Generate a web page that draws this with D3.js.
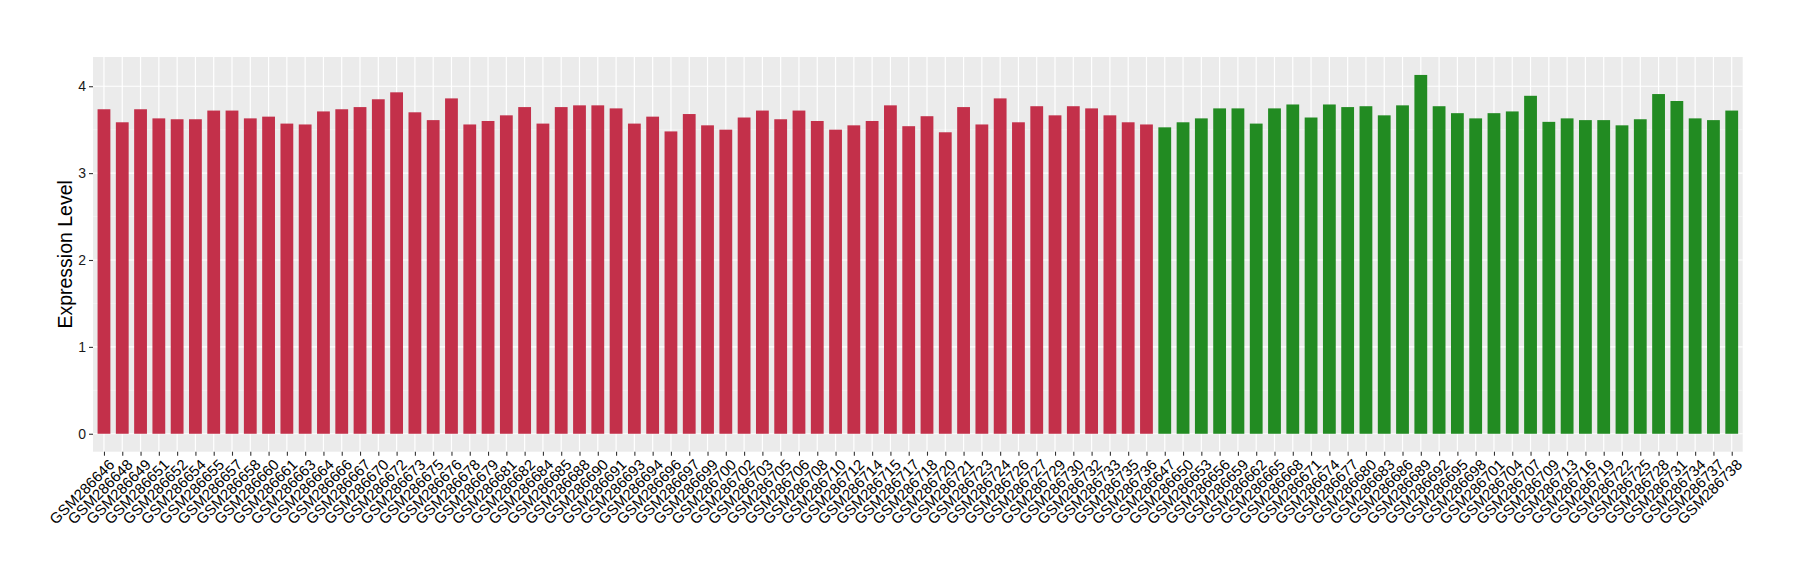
<!DOCTYPE html>
<html>
<head>
<meta charset="utf-8">
<script src="https://cdn.jsdelivr.net/npm/d3@7"></script>
<style>
  html, body { margin: 0; padding: 0; background: #fff; }
  svg { display: block; font-family: "Liberation Sans", Arial, Helvetica, sans-serif; }
</style>
</head>
<body>
<svg id="chart" width="1800" height="580"></svg>
<script>
const redSamples = ["GSM286646","GSM286648","GSM286649","GSM286651","GSM286652","GSM286654","GSM286655","GSM286657","GSM286658","GSM286660","GSM286661","GSM286663","GSM286664","GSM286666","GSM286667","GSM286670","GSM286672","GSM286673","GSM286675","GSM286676","GSM286678","GSM286679","GSM286681","GSM286682","GSM286684","GSM286685","GSM286688","GSM286690","GSM286691","GSM286693","GSM286694","GSM286696","GSM286697","GSM286699","GSM286700","GSM286702","GSM286703","GSM286705","GSM286706","GSM286708","GSM286710","GSM286712","GSM286714","GSM286715","GSM286717","GSM286718","GSM286720","GSM286721","GSM286723","GSM286724","GSM286726","GSM286727","GSM286729","GSM286730","GSM286732","GSM286733","GSM286735","GSM286736"];
const redValues = [3.735,3.585,3.735,3.63,3.62,3.62,3.72,3.72,3.63,3.65,3.57,3.56,3.71,3.735,3.76,3.85,3.93,3.70,3.61,3.86,3.56,3.60,3.665,3.76,3.57,3.76,3.78,3.78,3.745,3.57,3.65,3.48,3.68,3.55,3.50,3.64,3.72,3.62,3.72,3.60,3.50,3.55,3.60,3.78,3.54,3.655,3.47,3.76,3.56,3.86,3.585,3.77,3.665,3.77,3.745,3.665,3.585,3.56];
const greenSamples = ["GSM286647","GSM286650","GSM286653","GSM286656","GSM286659","GSM286662","GSM286665","GSM286668","GSM286671","GSM286674","GSM286677","GSM286680","GSM286683","GSM286686","GSM286689","GSM286692","GSM286695","GSM286698","GSM286701","GSM286704","GSM286707","GSM286709","GSM286713","GSM286716","GSM286719","GSM286722","GSM286725","GSM286728","GSM286731","GSM286734","GSM286737","GSM286738"];
const greenValues = [3.527,3.585,3.63,3.745,3.745,3.57,3.745,3.79,3.64,3.79,3.76,3.77,3.665,3.78,4.13,3.77,3.69,3.63,3.69,3.71,3.89,3.59,3.63,3.61,3.61,3.55,3.62,3.91,3.83,3.63,3.61,3.72];
const yTicks = [0, 1, 2, 3, 4];
const yMinor = [0.5, 1.5, 2.5, 3.5];
const yLabel = "Expression Level";
const colors = { red: "#C3304A", green: "#228B22" };

const data = redSamples.map((s, i) => ({ sample: s, value: redValues[i], group: "red" }))
  .concat(greenSamples.map((s, i) => ({ sample: s, value: greenValues[i], group: "green" })));

const svg = d3.select("#chart");
const panel = { left: 93, right: 1742.7, top: 57, bottom: 451.7 };

const maxV = d3.max(data, d => d.value);
const pad = maxV * 0.05;
const y = d3.scaleLinear().domain([-pad, maxV + pad]).range([panel.bottom, panel.top]);
const x = d3.scalePoint().domain(data.map(d => d.sample)).range([panel.left, panel.right]).padding(0.6);
const bw = x.step() * 0.7;

svg.append("rect").attr("x", panel.left).attr("y", panel.top)
  .attr("width", panel.right - panel.left).attr("height", panel.bottom - panel.top)
  .attr("fill", "#EBEBEB");

svg.append("g").selectAll("line").data(yMinor).join("line")
  .attr("x1", panel.left).attr("x2", panel.right)
  .attr("y1", d => y(d)).attr("y2", d => y(d))
  .attr("stroke", "#F7F7F7").attr("stroke-width", 0.6);
svg.append("g").selectAll("line").data(yTicks).join("line")
  .attr("x1", panel.left).attr("x2", panel.right)
  .attr("y1", d => y(d)).attr("y2", d => y(d))
  .attr("stroke", "#fff").attr("stroke-width", 1.2);
svg.append("g").selectAll("line").data(data).join("line")
  .attr("x1", d => x(d.sample)).attr("x2", d => x(d.sample))
  .attr("y1", panel.top).attr("y2", panel.bottom)
  .attr("stroke", "#fff").attr("stroke-width", 1.2);

svg.append("g").selectAll("rect").data(data).join("rect")
  .attr("x", d => x(d.sample) - bw / 2)
  .attr("width", bw)
  .attr("y", d => y(d.value))
  .attr("height", d => y(0) - y(d.value))
  .attr("fill", d => colors[d.group]);

const yAxis = svg.append("g").attr("transform", `translate(${panel.left},0)`)
  .call(d3.axisLeft(y).tickValues(yTicks).tickSize(4).tickPadding(3).tickFormat(d3.format("d")));
yAxis.select(".domain").remove();
yAxis.selectAll(".tick line").attr("stroke", "#333").attr("stroke-width", 1.1);
yAxis.selectAll(".tick text").attr("fill", "#1a1a1a").style("font-size", "14px");

const xAxis = svg.append("g").attr("transform", `translate(0,${panel.bottom})`)
  .call(d3.axisBottom(x).tickSize(4).tickPadding(2));
xAxis.select(".domain").remove();
xAxis.selectAll(".tick line").attr("stroke", "#333").attr("stroke-width", 1.1);
xAxis.selectAll(".tick text")
  .attr("fill", "#000")
  .style("font-size", "15px")
  .attr("text-anchor", "end")
  .attr("dy", null)
  .attr("y", null)
  .attr("transform", "translate(3,6) rotate(-45)")
  .attr("dominant-baseline", "hanging");

svg.append("text")
  .attr("transform", `translate(65,${(panel.top + panel.bottom) / 2}) rotate(-90)`)
  .attr("text-anchor", "middle")
  .attr("dominant-baseline", "central")
  .style("font-size", "19.5px")
  .attr("fill", "#000")
  .text(yLabel);
</script>
</body>
</html>
